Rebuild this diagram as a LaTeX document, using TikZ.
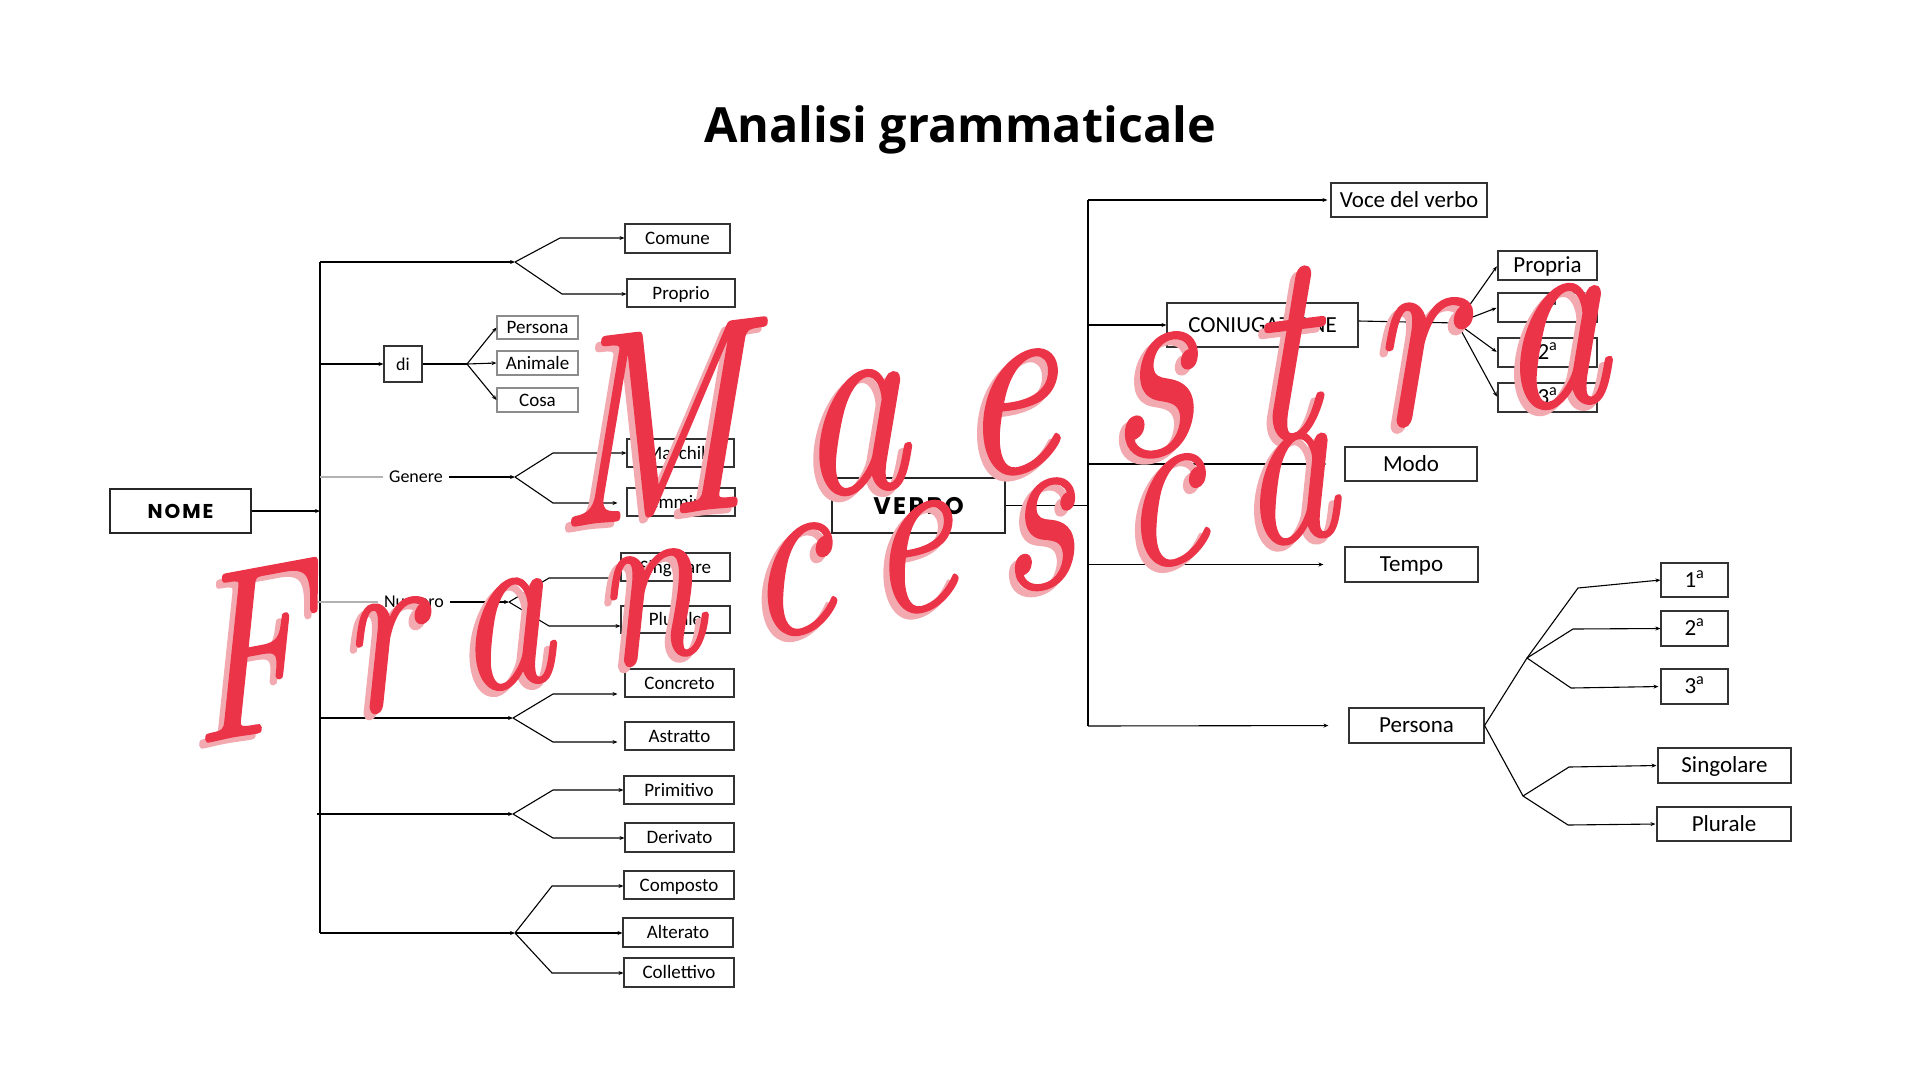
\documentclass[tikz,border=0pt]{standalone}
\usepackage{fontspec}
\setmainfont{Carlito}
\newfontfamily\titlefont{Open Sans}
\newfontfamily\headfont[LetterSpace=10]{Poppins}
\newfontfamily\signfont[FakeBold=0.8, FakeSlant=0.12, LetterSpace=24]{lmroman10-italic.otf}
\usetikzlibrary{arrows.meta,calc}
\definecolor{inkred}{RGB}{236,52,72}
\definecolor{inkpink}{RGB}{242,170,176}
\tikzset{
  box/.style={draw=black!80, line width=1.1pt, inner sep=0pt, text height=12.3pt, text depth=0pt, font=\fontsize{19}{22}\selectfont},
  vbox/.style={box, text height=14.8pt, font=\fontsize{23}{26}\selectfont},
  head/.style={draw=black!85, line width=1.2pt, inner sep=0pt, text depth=0pt},
  link/.style={line width=1.1pt},
  arr/.style={link, -{Stealth[length=5pt,width=4pt]}},
  pale/.style={line width=1.1pt, black!30},
  lbl/.style={inner sep=0pt, text height=11.6pt, text depth=0pt, font=\fontsize{18}{20}\selectfont},
  wmark/.style={inner sep=0pt, anchor=base, font=\signfont\fontsize{#1}{#1}\selectfont},
}
\begin{document}
\begin{tikzpicture}[x=1pt,y=-1pt]
\useasboundingbox (0,0) rectangle (1920,1080);
\fill[white] (0,0) rectangle (1920,1080);
\node[anchor=base, font=\titlefont\bfseries\fontsize{48.5}{52}\selectfont] (title) at (960,142) {Analisi grammaticale};

% NOME
\node[head, minimum width=141, minimum height=44, text height=14pt, font=\headfont\bfseries\fontsize{20}{22}\selectfont] (nome) at (180.5,511) {NOME};
\coordinate (ntop) at (320,262);
\coordinate (nbot) at (320,933);
\draw[link] (ntop) -- (nbot);
\draw[arr] (nome.east) -- (nome.east -| ntop);

\node[box, minimum width=105, minimum height=29] (comune) at (677.5,238.5) {Comune};
\node[box, minimum width=108, minimum height=28] (proprio) at (681,293) {Proprio};
\coordinate (f1) at (515,262);
\draw[arr] (ntop) -- (f1);
\draw[arr] (f1) -- (560,238) -- (comune.west |- 0,238);
\draw[arr] (f1) -- (562,294) -- (proprio.west |- 0,294);

\node[box, minimum width=38, minimum height=36, font=\fontsize{18}{20}\selectfont] (di) at (403,364) {di};
\node[box, draw=black!45, minimum width=81, minimum height=23] (persona) at (537.5,327.5) {Persona};
\node[box, draw=black!45, minimum width=81, minimum height=24] (animale) at (537.5,363) {Animale};
\node[box, draw=black!45, minimum width=81, minimum height=24] (cosa) at (537.5,400) {Cosa};
\coordinate (f2) at (467,364);
\draw[arr] (ntop |- di) -- (di.west);
\draw[link] (di.east) -- (f2);
\foreach \n in {persona,animale,cosa}
  \draw[arr] (f2) -- (\n.west);

\node[lbl] (genere) at (416,477) {Genere};
\node[box, minimum width=107, minimum height=28] (maschile) at (680.5,453) {Maschile};
\node[box, minimum width=108, minimum height=28] (femminile) at (681,502) {Femminile};
\coordinate (f3) at (515,477);
\draw[pale] (ntop |- genere) -- ([xshift=-6]genere.west);
\draw[arr] ([xshift=6]genere.east) -- (f3);
\draw[arr] (f3) -- (553,453) -- (maschile.west |- 0,453);
\draw[arr, shorten >=9] (f3) -- (553,503) -- (femminile.west |- 0,503);

\node[lbl] (numero) at (414,602) {Numero};
\node[box, minimum width=109, minimum height=28] (singolare) at (675.5,567) {Singolare};
\node[box, minimum width=109, minimum height=27] (plurale) at (675.5,619.5) {Plurale};
\coordinate (f4) at (509,602);
\draw[pale] (317,602) -- ([xshift=-6]numero.west);
\draw[arr] ([xshift=6]numero.east) -- (f4);
\draw[arr] (f4) -- (549,578) -- (singolare.west |- 0,578);
\draw[arr] (f4) -- (549,626) -- (plurale.west |- 0,626);

\node[box, minimum width=109, minimum height=28] (concreto) at (679.5,683) {Concreto};
\node[box, minimum width=109, minimum height=28] (astratto) at (679.5,736) {Astratto};
\coordinate (f5) at (513,718);
\draw[arr] (ntop |- f5) -- (f5);
\draw[arr, shorten >=7] (f5) -- (553,694) -- (concreto.west |- 0,694);
\draw[arr, shorten >=7] (f5) -- (553,742) -- (astratto.west |- 0,742);

\node[box, minimum width=110, minimum height=28] (primitivo) at (679,790) {Primitivo};
\node[box, minimum width=109, minimum height=29] (derivato) at (679.5,837.5) {Derivato};
\coordinate (f6) at (513,814);
\draw[arr] (317,814) -- (f6);
\draw[arr] (f6) -- (553,790) -- (primitivo.west |- 0,790);
\draw[arr] (f6) -- (553,838) -- (derivato.west |- 0,838);

\node[box, minimum width=110, minimum height=28] (composto) at (679,885) {Composto};
\node[box, minimum width=110, minimum height=29] (alterato) at (678,932.5) {Alterato};
\node[box, minimum width=110, minimum height=29] (collettivo) at (679,972.5) {Collettivo};
\coordinate (f7) at (515,933);
\draw[arr] (nbot) -- (f7);
\draw[arr] (f7) -- (552,886) -- (composto.west |- 0,886);
\draw[arr] (f7) -- (alterato.west |- f7);
\draw[arr] (f7) -- (552,973) -- (collettivo.west |- 0,973);

% VERBO
\node[head, minimum width=173, minimum height=55, text height=17pt, font=\headfont\bfseries\fontsize{24}{26}\selectfont] (verbo) at (918.5,505.5) {VERBO};
\coordinate (vtop) at (1088,200);
\coordinate (vbot) at (1088,726);
\draw[link] (vtop) -- (vbot);
\draw[link] (verbo.east) -- (verbo.east -| vtop);

\node[vbox, minimum width=156, minimum height=34] (voce) at (1409,200) {Voce del verbo};
\draw[arr, shorten >=3] (vtop) -- (voce.west);

\node[vbox, minimum width=191, minimum height=44] (coniug) at (1262.5,325) {CONIUGAZIONE};
\draw[arr] (vtop |- coniug) -- (coniug.west);
\node[vbox, minimum width=99, minimum height=29] (propria) at (1547.5,265.5) {Propria};
\node[vbox, minimum width=99, minimum height=29] (c1) at (1547.5,307.5) {1\textsuperscript{a}};
\node[vbox, minimum width=99, minimum height=29] (c2) at (1547.5,352.5) {2\textsuperscript{a}};
\node[vbox, minimum width=99, minimum height=29] (c3) at (1547.5,397.5) {3\textsuperscript{a}};
\coordinate (g0) at (1457,323);
\draw[link] ([yshift=4]coniug.east) -- (g0);
\foreach \n in {propria,c1,c2,c3}
  \draw[arr, shorten >=1] (g0) -- (\n.west);

\node[vbox, minimum width=132, minimum height=34] (modo) at (1411,464) {Modo};
\draw[arr, shorten >=18] (vtop |- modo) -- (modo.west);
\node[vbox, minimum width=133, minimum height=35] (tempo) at (1411.5,564.5) {Tempo};
\draw[arr, shorten >=21] (vtop |- tempo) -- (tempo.west);
\node[vbox, minimum width=135, minimum height=35] (vpersona) at (1416.5,725.5) {Persona};
\draw[arr, shorten >=20] (vbot) -- (vpersona.west);

\node[vbox, minimum width=67, minimum height=34] (p1) at (1694.5,580) {1\textsuperscript{a}};
\node[vbox, minimum width=67, minimum height=35] (p2) at (1694.5,628.5) {2\textsuperscript{a}};
\node[vbox, minimum width=67, minimum height=35] (p3) at (1694.5,686.5) {3\textsuperscript{a}};
\node[vbox, minimum width=133, minimum height=35] (sing) at (1724.5,765.5) {Singolare};
\node[vbox, minimum width=134, minimum height=34] (plur) at (1724,824) {Plurale};
\coordinate (g1) at (1527,658);
\coordinate (g2) at (1523,796);
\draw[link] (g1) -- (vpersona.east) -- (g2);
\draw[arr] (g1) -- (1578,588) -- (p1.west);
\draw[arr] (g1) -- (1573,629) -- (p2.west);
\draw[arr, shorten >=2] (g1) -- (1571,688) -- (p3.west);
\draw[arr, shorten >=1] (g2) -- (1569,767) -- (sing.west);
\draw[arr, shorten >=1] (g2) -- (1568,825) -- (plur.west);

% firma
\node[wmark=215, text=inkpink, rotate=7, yscale=1.25] at (1078,469) {Maestra};
\node[wmark=215, text=inkred, rotate=7, yscale=1.25] (maestra) at (1084,463) {Maestra};
\node[wmark=190, text=inkpink, rotate=10.5, yscale=1.25] at (762,644) {Francesca};
\node[wmark=190, text=inkred, rotate=10.5, yscale=1.25] (francesca) at (768,638) {Francesca};
\end{tikzpicture}
\end{document}
